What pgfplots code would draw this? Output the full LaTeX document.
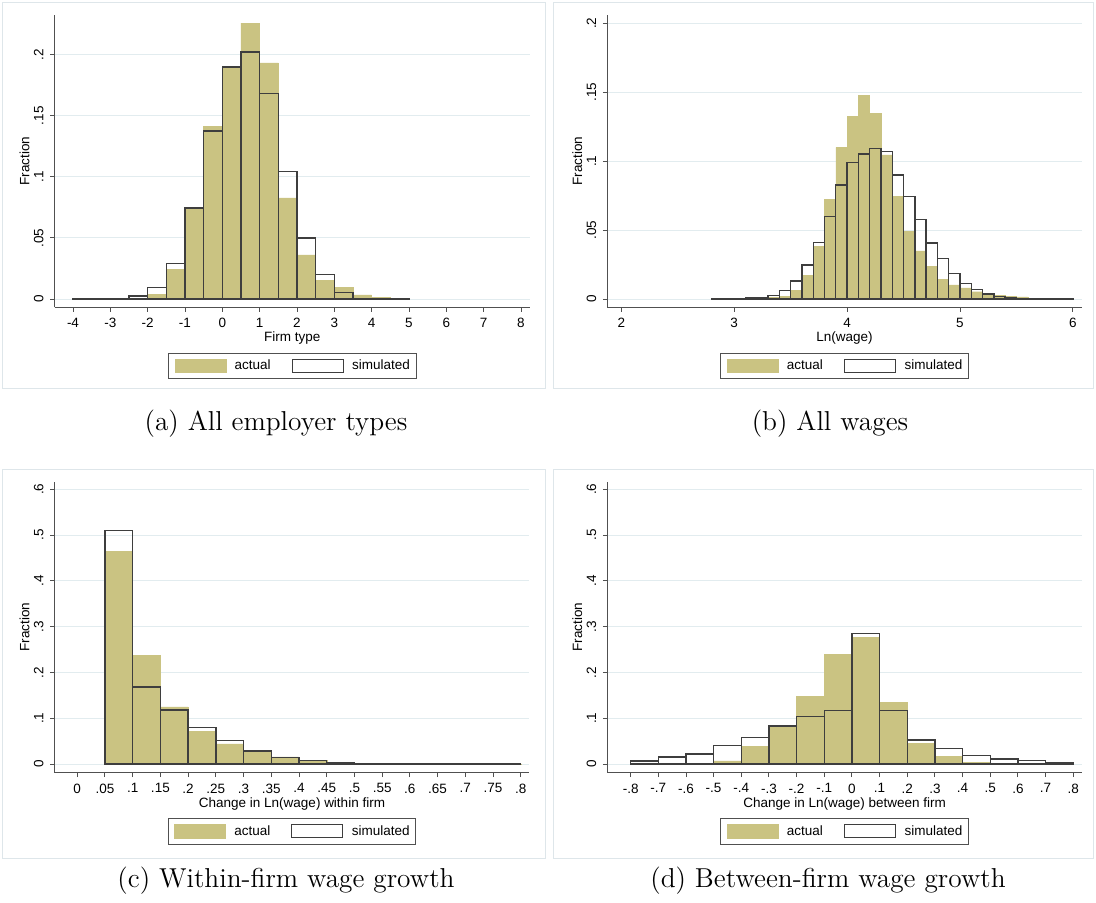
\documentclass[border=0pt]{standalone}
\usepackage{fontspec}
\usepackage{graphicx}
\usepackage{pgfplots}
\usepackage{pgfplotstable}
\pgfplotsset{compat=1.18}

\newfontfamily\statafont{Liberation Sans}
\newcommand\chartfont{\statafont\fontsize{13.5}{16}\selectfont}

\definecolor{actualfill}{RGB}{202,195,130}
\definecolor{simline}{RGB}{62,62,62}
\definecolor{axisgray}{RGB}{80,80,80}
\definecolor{gridc}{RGB}{226,236,239}
\definecolor{framec}{RGB}{222,230,234}

% Histogram bins: left edge, actual share, simulated share (last row closes the range)
\pgfplotstableread{
x      a       s
-4.0   0.0000  0.0005
-3.5   0.0000  0.0004
-3.0   0.0000  0.0004
-2.5   0.0006  0.0025
-2.0   0.0040  0.0096
-1.5   0.0243  0.0290
-1.0   0.0746  0.0746
-0.5   0.1410  0.1374
 0.0   0.1885  0.1900
 0.5   0.2257  0.2022
 1.0   0.1932  0.1683
 1.5   0.0828  0.1044
 2.0   0.0360  0.0500
 2.5   0.0150  0.0200
 3.0   0.0096  0.0055
 3.5   0.0033  0.0006
 4.0   0.0012  0.0005
 4.5   0.0004  0.0004
 5.0   0.0000  0.0000
}\firmtype

\pgfplotstableread{
x     a       s
2.8   0.0000  0.0004
2.9   0.0000  0.0004
3.0   0.0000  0.0005
3.1   0.0000  0.0008
3.2   0.0003  0.0012
3.3   0.0010  0.0024
3.4   0.0020  0.0060
3.5   0.0065  0.0130
3.6   0.0174  0.0247
3.7   0.0380  0.0412
3.8   0.0724  0.0598
3.9   0.1100  0.0828
4.0   0.1327  0.0988
4.1   0.1477  0.1053
4.2   0.1346  0.1092
4.3   0.1046  0.1070
4.4   0.0743  0.0900
4.5   0.0489  0.0743
4.6   0.0349  0.0576
4.7   0.0235  0.0407
4.8   0.0143  0.0295
4.9   0.0102  0.0186
5.0   0.0080  0.0111
5.1   0.0053  0.0070
5.2   0.0031  0.0036
5.3   0.0029  0.0017
5.4   0.0017  0.0010
5.5   0.0015  0.0005
5.6   0.0005  0.0003
5.7   0.0003  0.0003
5.8   0.0000  0.0005
5.9   0.0000  0.0005
6.0   0.0000  0.0000
}\lnwage

\pgfplotstableread{
x      a       s
0.05   0.4640  0.5100
0.10   0.2367  0.1680
0.15   0.1245  0.1180
0.20   0.0706  0.0800
0.25   0.0437  0.0517
0.30   0.0284  0.0284
0.35   0.0153  0.0146
0.40   0.0080  0.0073
0.45   0.0036  0.0030
0.50   0.0015  0.0010
0.55   0.0010  0.0006
0.60   0.0006  0.0005
0.65   0.0005  0.0004
0.70   0.0004  0.0004
0.75   0.0003  0.0003
0.80   0.0000  0.0000
}\within

\pgfplotstableread{
x      a       s
-0.8   0.0000  0.0066
-0.7   0.0012  0.0153
-0.6   0.0012  0.0218
-0.5   0.0066  0.0400
-0.4   0.0379  0.0583
-0.3   0.0830  0.0830
-0.2   0.1479  0.1034
-0.1   0.2396  0.1165
 0.0   0.2760  0.2848
 0.1   0.1347  0.1165
 0.2   0.0452  0.0524
 0.3   0.0160  0.0342
 0.4   0.0036  0.0182
 0.5   0.0010  0.0110
 0.6   0.0020  0.0073
 0.7   0.0005  0.0020
 0.8   0.0000  0.0000
}\between

\pgfplotsset{
  statapanel/.style={
    scale only axis,
    anchor=south west,
    enlargelimits=false,
    axis x line*=bottom,
    axis y line*=left,
    axis line style={draw=axisgray, line width=1pt},
    tick style={draw=axisgray, line width=0.9pt},
    tick align=outside,
    major tick length=4.5pt,
    ymajorgrids,
    grid style={draw=gridc, line width=0.9pt},
    font=\chartfont,
    tick label style={font=\chartfont},
    xticklabel style={anchor=north, inner sep=0pt, yshift=-6.2pt},
    yticklabel style={xshift=-6.5pt, rotate=90, anchor=south, inner sep=0pt},
    ylabel={Fraction},
    every axis y label/.style={at={([xshift=-30pt]axis description cs:0,0.5)}, rotate=90, anchor=center, inner sep=0pt},
    every axis x label/.style={at={([yshift=-31pt]axis description cs:0.5,0)}, anchor=center, inner sep=0pt},
    legend columns=2,
    legend style={at={(0.5,0)}, anchor=north, yshift=-45.4pt,
      draw=axisgray, line width=0.9pt, font=\chartfont,
      inner xsep=6pt, inner ysep=5.5pt,
      nodes={inner sep=0pt},
      /tikz/every odd column/.style={column sep=8.6pt},
      /tikz/every even column/.style={column sep=21pt}},
  },
  actual/.style={ybar interval, fill=actualfill, draw=actualfill, line width=0.4pt,
    legend image code/.code={\fill[actualfill] (0pt,-6.7pt) rectangle (51pt,6.7pt);}},
  simulated/.style={ybar interval, fill=none, draw=simline, line width=1.4pt,
    legend image code/.code={\draw[simline, line width=1pt, fill=white] (0pt,-6.7pt) rectangle (51pt,6.7pt);}},
}

\begin{document}
\begin{tikzpicture}[x=1pt, y=1pt]
\useasboundingbox (0,0) rectangle (1096,903);

% panel frames
\draw[framec, line width=0.8pt] (2,515) rectangle (545,901);
\draw[framec, line width=0.8pt] (553,515) rectangle (1093,901);
\draw[framec, line width=0.8pt] (2,45) rectangle (545,434);
\draw[framec, line width=0.8pt] (553,45) rectangle (1093,434);

% (a) employer types
\begin{axis}[statapanel,
  at={(54.6pt,595.7pt)}, width=475.4pt, height=292.3pt,
  xmin=-4.493, xmax=8.242, ymin=-0.0068, ymax=0.2324,
  xtick={-4,...,8},
  xticklabels={-4,-3,-2,-1,0,1,2,3,4,5,6,7,8},
  ytick={0,0.05,0.1,0.15,0.2},
  yticklabels={0,.05,.1,.15,.2},
  xlabel={Firm type}]
\addplot[actual] table[x=x, y=a] {\firmtype};
\addlegendentry{actual}
\addplot[simulated] table[x=x, y=s] {\firmtype};
\addlegendentry{simulated}
\end{axis}

% (b) wages
\begin{axis}[statapanel,
  at={(607.4pt,595.7pt)}, width=474.4pt, height=292.3pt,
  xmin=1.877, xmax=6.079, ymin=-0.006, ymax=0.206,
  xtick={2,3,4,5,6},
  xticklabels={2,3,4,5,6},
  ytick={0,0.05,0.1,0.15,0.2},
  yticklabels={0,.05,.1,.15,.2},
  xlabel={Ln(wage)}]
\addplot[actual] table[x=x, y=a] {\lnwage};
\addlegendentry{actual}
\addplot[simulated] table[x=x, y=s] {\lnwage};
\addlegendentry{simulated}
\end{axis}

% (c) within-firm growth
\begin{axis}[statapanel,
  at={(54.6pt,130.3pt)}, width=474.8pt, height=291pt,
  xmin=-0.0408, xmax=0.8156, ymin=-0.019, ymax=0.6166,
  xtick={0,0.05,...,0.8},
  xticklabels={0,.05,.1,.15,.2,.25,.3,.35,.4,.45,.5,.55,.6,.65,.7,.75,.8},
  ytick={0,0.1,0.2,0.3,0.4,0.5,0.6},
  yticklabels={0,.1,.2,.3,.4,.5,.6},
  xlabel={Change in Ln(wage) within firm}]
\addplot[actual] table[x=x, y=a] {\within};
\addlegendentry{actual}
\addplot[simulated] table[x=x, y=s] {\within};
\addlegendentry{simulated}
\end{axis}

% (d) between-firm growth
\begin{axis}[statapanel,
  at={(607.4pt,130.3pt)}, width=474.4pt, height=291pt,
  xmin=-0.884, xmax=0.831, ymin=-0.019, ymax=0.6166,
  xtick={-0.8,-0.7,-0.6,-0.5,-0.4,-0.3,-0.2,-0.1,0,0.1,0.2,0.3,0.4,0.5,0.6,0.7,0.8},
  xticklabels={-.8,-.7,-.6,-.5,-.4,-.3,-.2,-.1,0,.1,.2,.3,.4,.5,.6,.7,.8},
  ytick={0,0.1,0.2,0.3,0.4,0.5,0.6},
  yticklabels={0,.1,.2,.3,.4,.5,.6},
  xlabel={Change in Ln(wage) between firm}]
\addplot[actual] table[x=x, y=a] {\between};
\addlegendentry{actual}
\addplot[simulated] table[x=x, y=s] {\between};
\addlegendentry{simulated}
\end{axis}

% sub-figure captions
\node[anchor=base] at (276,472.5) {\scalebox{2.28}{\fontsize{12}{14}\selectfont (a) All employer types}};
\node[anchor=base] at (830,472.5) {\scalebox{2.28}{\fontsize{12}{14}\selectfont (b) All wages}};
\node[anchor=base] at (286,15) {\scalebox{2.28}{\fontsize{12}{14}\selectfont (c) Within-firm wage growth}};
\node[anchor=base] at (828,15) {\scalebox{2.28}{\fontsize{12}{14}\selectfont (d) Between-firm wage growth}};
\end{tikzpicture}
\end{document}
